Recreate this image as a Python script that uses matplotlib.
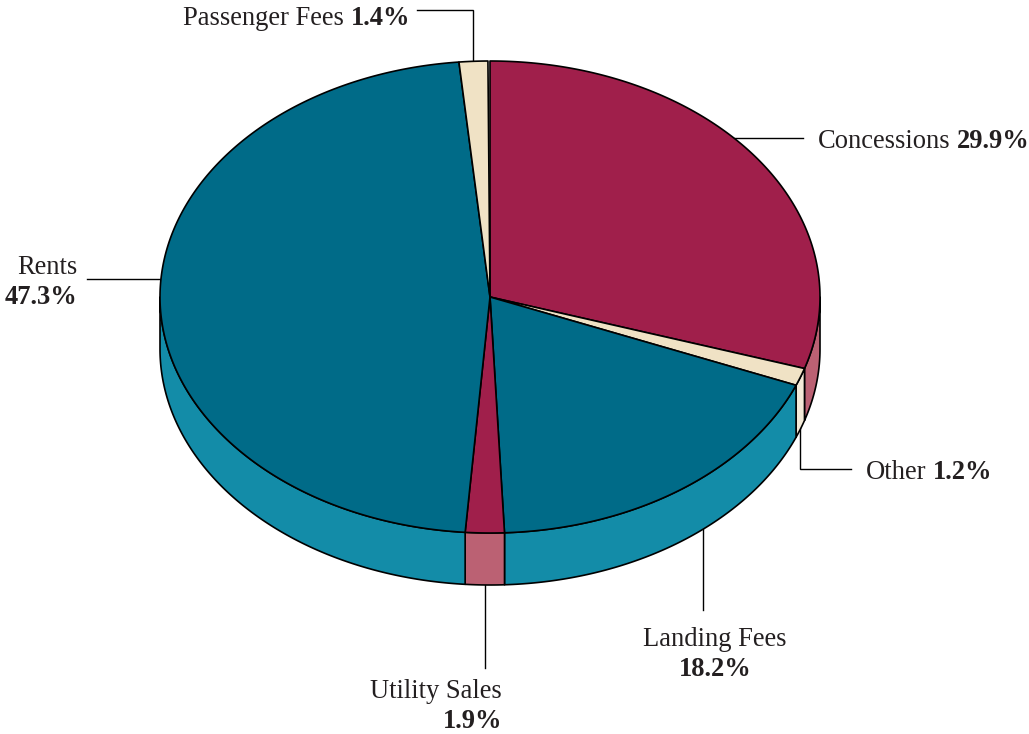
"""
Revenue shares drawn as an extruded pie with leader lines.
"""

import numpy as np
import matplotlib
matplotlib.use('Agg')
import matplotlib.pyplot as plt
from matplotlib.patches import Polygon

WIDTH, HEIGHT = 1029, 734
CX, CY = 490, 297
RX, RY = 330, 236
DEPTH = 52

categories = ['Concessions', 'Other', 'Landing Fees', 'Utility Sales', 'Rents', 'Passenger Fees']
shares = [29.9, 1.2, 18.2, 1.9, 47.3, 1.4]
share_labels = ['29.9%', '1.2%', '18.2%', '1.9%', '47.3%', '1.4%']
top_colors = ['#a01f4b', '#f0e2c5', '#006b88', '#a01f4b', '#006b88', '#f0e2c5']
side_colors = ['#bb6173', '#f4ead8', '#138ca8', '#bb6173', '#138ca8', '#f4ead8']

plt.rcParams['font.family'] = ['Liberation Serif', 'DejaVu Serif']
TEXT_COLOR = '#231f20'
FONT_SIZE = 19.1

fig = plt.figure(figsize=(WIDTH / 100, HEIGHT / 100), dpi=100)
ax = fig.add_axes([0, 0, 1, 1])
ax.set_xlim(0, WIDTH)
ax.set_ylim(HEIGHT, 0)
ax.axis('off')


def rim(start, stop, dy=0):
    # Angles run clockwise from twelve o'clock, in degrees
    npts = max(int(abs(stop - start) * 2), 2)
    theta = np.radians(np.linspace(start, stop, npts))
    return np.column_stack((CX + RX * np.sin(theta), CY + dy - RY * np.cos(theta)))


edges = np.concatenate(([0], np.cumsum(shares))) * 3.6

# Side wall, only for the part of the rim that faces the viewer
for indc in range(len(shares)):
    start = max(edges[indc], 90)
    stop = min(edges[indc + 1], 270)
    if start >= stop:
        continue
    wall = np.vstack((rim(start, stop), rim(stop, start, DEPTH)))
    ax.add_patch(Polygon(wall, closed=True, fc=side_colors[indc], ec='k', lw=1.2, joinstyle='round'))

# Top face
for indc in range(len(shares)):
    face = np.vstack(([[CX, CY]], rim(edges[indc], edges[indc + 1])))
    ax.add_patch(Polygon(face, closed=True, fc=top_colors[indc], ec='k', lw=1.2, joinstyle='round'))

# Leader lines, tucked behind the pie where they meet it
leaders = [
    ([730, 803], [138, 138]),
    ([800, 800, 851], [425, 469, 469]),
    ([703, 703], [525, 610]),
    ([485, 485], [580, 668]),
    ([87, 165], [279, 279]),
    ([417, 473, 473], [10, 10, 66]),
]
for xvals, yvals in leaders:
    ax.plot(xvals, yvals, color='k', lw=1, solid_joinstyle='miter', zorder=0)


def inline_label(x, y, name, value):
    # Regular name followed by the bold value on the same baseline
    renderer = fig.canvas.get_renderer()
    probe = ax.text(x, y, name + ' n', fontsize=FONT_SIZE, alpha=0)
    tail = ax.text(x, y, 'n', fontsize=FONT_SIZE, alpha=0)
    offset = probe.get_window_extent(renderer).width - tail.get_window_extent(renderer).width
    probe.remove()
    tail.remove()
    ax.text(x, y, name, fontsize=FONT_SIZE, color=TEXT_COLOR, va='baseline', ha='left')
    ax.text(x + offset, y, value, fontsize=FONT_SIZE, color=TEXT_COLOR, fontweight='bold',
            va='baseline', ha='left')


def stacked_label(x, y, name, value, ha):
    ax.text(x, y, name, fontsize=FONT_SIZE, color=TEXT_COLOR, va='baseline', ha=ha)
    ax.text(x, y + 30, value, fontsize=FONT_SIZE, color=TEXT_COLOR, fontweight='bold', va='baseline', ha=ha)


inline_label(818, 148, categories[0], share_labels[0])
inline_label(866, 479, categories[1], share_labels[1])
stacked_label(715, 646, categories[2], share_labels[2], 'center')
stacked_label(502, 698, categories[3], share_labels[3], 'right')
stacked_label(77, 274, categories[4], share_labels[4], 'right')
inline_label(183, 25, categories[5], share_labels[5])

fig.savefig('out.png', dpi=100, facecolor='white')
